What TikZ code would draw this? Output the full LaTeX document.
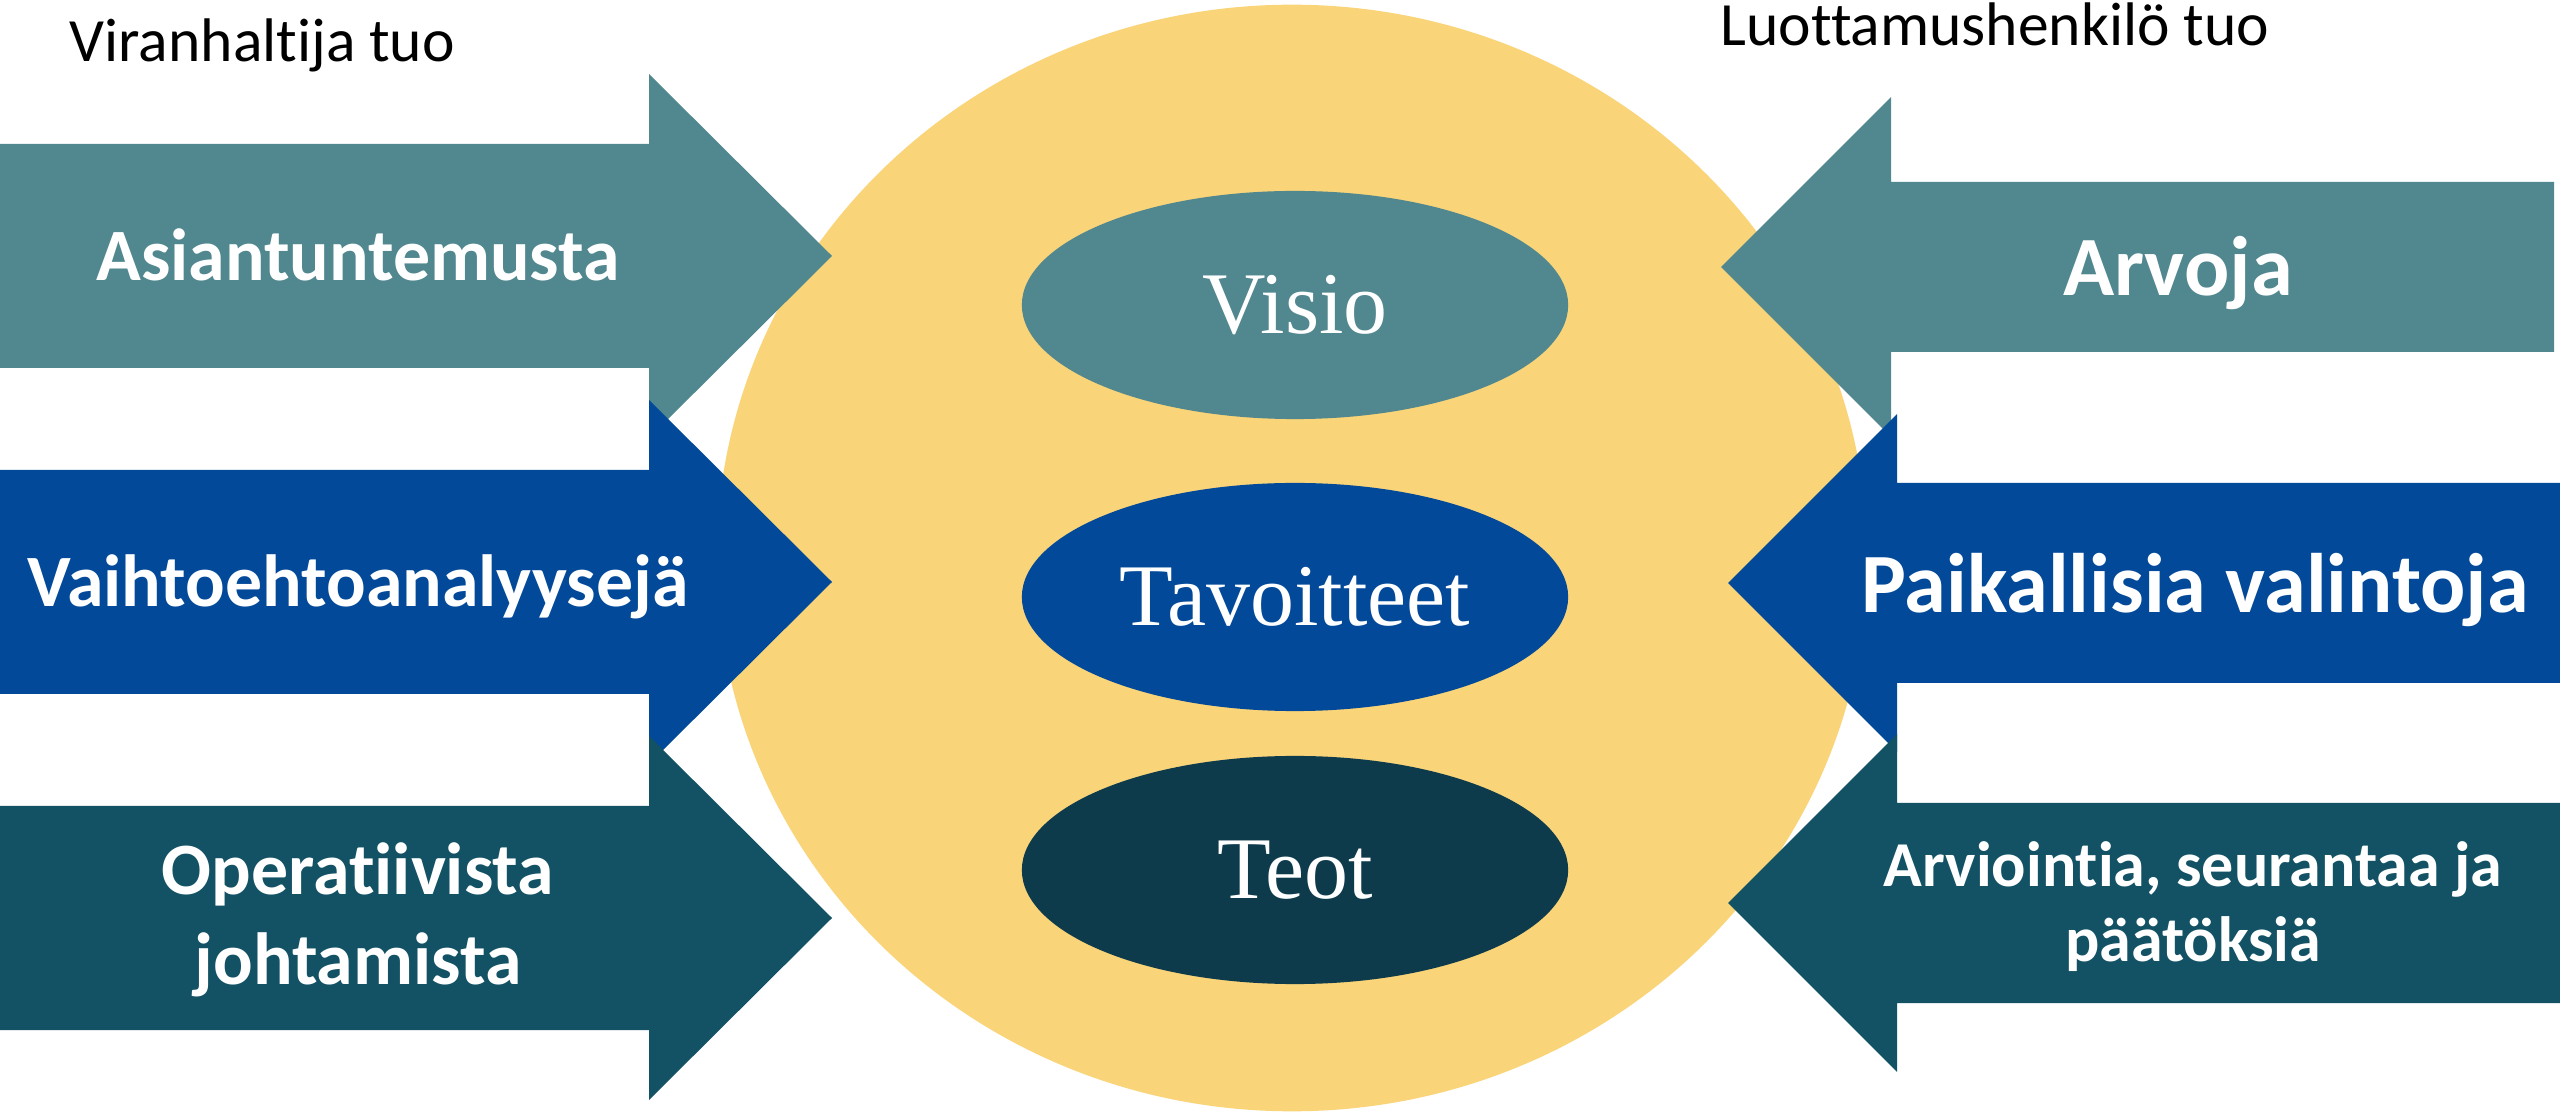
\documentclass[tikz,border=0pt]{standalone}
\usepackage{fontspec}
\setmainfont{Carlito}[Ligatures=NoCommon]
\newfontfamily\ellipsefont{Liberation Serif}
\usetikzlibrary{shapes.geometric}

\definecolor{tealA}{RGB}{81,135,143}
\definecolor{blueB}{RGB}{2,73,153}
\definecolor{tealC}{RGB}{18,82,100}
\definecolor{tealD}{RGB}{14,59,75}
\definecolor{sunY}{RGB}{249,212,121}

\begin{document}
\begin{tikzpicture}[x=0.01cm, y=-0.01cm,
    lbl/.style={text=white, align=center, inner sep=0pt},
    core/.style={ellipse, minimum width=5.46cm, minimum height=2.28cm, inner sep=0pt,
        text=white, font=\ellipsefont\fontsize{25}{30}\selectfont}]
    \useasboundingbox (0,0) rectangle (2560,1113);

    % Circle
    \fill[sunY] (1292,558) ellipse [x radius=5.75cm, y radius=5.53cm];

    % Left arrows
    \foreach \cy/\col in {256/tealA, 582/blueB, 918/tealC}
        \fill[\col] (-5,{\cy-112}) -- (649,{\cy-112}) -- (649,{\cy-182}) -- (832,\cy)
            -- (649,{\cy+182}) -- (649,{\cy+112}) -- (-5,{\cy+112}) -- cycle;

    % Right arrows
    \foreach \cy/\bh/\hh/\tx/\bx/\ex/\col in {267/85/170/1721/1891/2554/tealA,
            583/100/169/1728/1897/2565/blueB, 903/100/169/1728/1897/2565/tealC}
        \fill[\col] (\ex,{\cy-\bh}) -- (\bx,{\cy-\bh}) -- (\bx,{\cy-\hh}) -- (\tx,\cy)
            -- (\bx,{\cy+\hh}) -- (\bx,{\cy+\bh}) -- (\ex,{\cy+\bh}) -- cycle;

    % Ellipses
    \node[core, fill=tealA] (visio) at (1295,305) {Visio};
    \node[core, fill=blueB] (goals) at (1295,597) {Tavoitteet};
    \node[core, fill=tealD] (deeds) at (1295,870) {Teot};

    % Headings
    \node[anchor=base west, inner sep=0pt, font=\fontsize{17.5}{21}\selectfont] (officer) at (69,62) {Viranhaltija tuo};
    \node[anchor=base west, inner sep=0pt, font=\fontsize{17.5}{21}\selectfont] (trustee) at (1720,46) {Luottamushenkilö tuo};

    % Left labels
    \node[lbl, anchor=base, font=\bfseries\fontsize{21}{25}\selectfont] (expertise) at (358,281) {Asiantuntemusta};
    \node[lbl, anchor=base, font=\bfseries\fontsize{21}{25}\selectfont] (options) at (358,607) {Vaihtoehtoanalyysejä};
    \node[lbl, font=\bfseries\fontsize{21}{25.6}\selectfont] (operative) at (358,920) {Operatiivista\\johtamista};

    % Right labels
    \node[lbl, anchor=base, font=\bfseries\fontsize{24}{29}\selectfont] (values) at (2178,296) {Arvoja};
    \node[lbl, anchor=base, font=\bfseries\fontsize{24}{28}\selectfont] (choices) at (2195,613) {Paikallisia valintoja};
    \node[lbl, font=\bfseries\fontsize{18.2}{21.3}\selectfont] (review) at (2193,907) {Arviointia, seurantaa ja\\päätöksiä};
\end{tikzpicture}
\end{document}
